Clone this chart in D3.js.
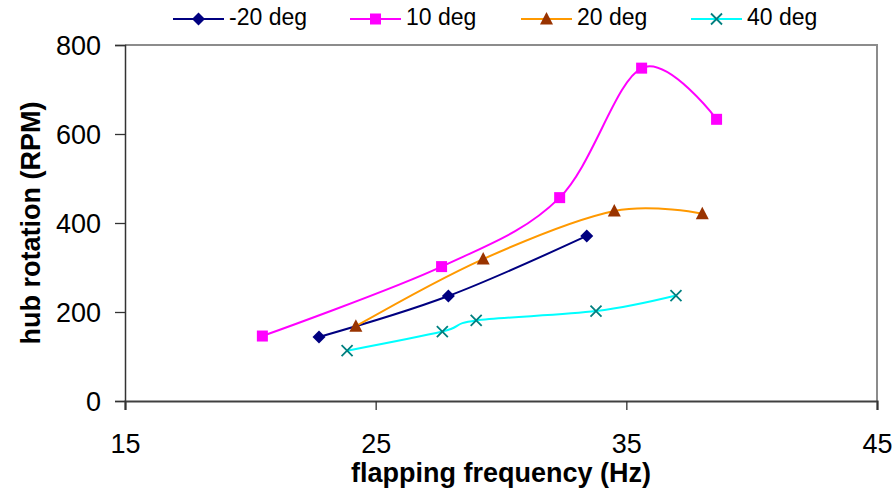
<!DOCTYPE html>
<html>
<head>
<meta charset="utf-8">
<script src="https://cdn.jsdelivr.net/npm/d3@7"></script>
<style>
  html, body { margin: 0; padding: 0; background: #fff; }
  svg { display: block; font-family: "Liberation Sans", Arial, sans-serif; }
</style>
</head>
<body>
<svg id="chart" width="896" height="492"></svg>
<script>
// ---- data ----
const seriesNames = ["-20 deg", "10 deg", "20 deg", "40 deg"];
const freqNeg20 = [22.74, 27.9, 33.42];
const rpmNeg20  = [144, 236, 371];
const freq10 = [20.48, 27.63, 32.34, 35.61, 38.6];
const rpm10  = [146, 302, 457, 748, 633];
const freq20 = [24.21, 29.29, 34.52, 38.03];
const rpm20  = [168, 319, 427, 421];
const freq40 = [23.86, 27.66, 29.01, 33.79, 36.98];
const rpm40  = [113, 156, 181, 202, 237];
const xTicks = [15, 25, 35, 45];
const yTicks = [0, 200, 400, 600, 800];

const lineColors   = ["#000080", "#FF00FF", "#FF9900", "#00FFFF"];
const markerColors = ["#000080", "#FF00FF", "#993300", "#008080"];
const markerTypes  = ["diamond", "square", "triangle", "x"];

const series = [
  [freqNeg20, rpmNeg20], [freq10, rpm10], [freq20, rpm20], [freq40, rpm40]
].map((s, i) => ({
  name: seriesNames[i],
  pts: s[0].map((f, j) => ({ x: f, y: s[1][j] }))
}));

// ---- layout ----
const svg = d3.select("#chart");
const L = 125, R = 877, T = 45, B = 401;
const x = d3.scaleLinear().domain([15, 45]).range([L, R]);
const y = d3.scaleLinear().domain([0, 800]).range([B, T]);

// plot border (top/right grey)
svg.append("path")
  .attr("d", `M${L},${T}H${R}V${B}`)
  .attr("fill", "none").attr("stroke", "#8c8c8c").attr("stroke-width", 2);

// y axis
const yAxis = svg.append("g").attr("transform", `translate(${L},0)`)
  .call(d3.axisLeft(y).tickValues(yTicks).tickSize(10).tickPadding(14).tickFormat(d3.format("d")));
yAxis.select(".domain").attr("stroke", "#333").attr("stroke-width", 1.5);
yAxis.selectAll(".tick line").attr("stroke", "#333").attr("stroke-width", 1.3);
yAxis.selectAll(".tick text").attr("font-size", 27).attr("fill", "#000")
  .attr("font-family", "'Liberation Sans', Arial, sans-serif").attr("dy", "0.36em");

// x axis
const xAxis = svg.append("g").attr("transform", `translate(0,${B})`)
  .call(d3.axisBottom(x).tickValues(xTicks).tickSize(9).tickPadding(14).tickFormat(d3.format("d")));
xAxis.select(".domain").attr("stroke", "#404040").attr("stroke-width", 2.2);
xAxis.selectAll(".tick line").attr("stroke", "#333").attr("stroke-width", 1.3);
xAxis.selectAll(".tick text").attr("font-size", 27).attr("fill", "#000")
  .attr("font-family", "'Liberation Sans', Arial, sans-serif").attr("y", 52).attr("dy", 0);

// axis titles
svg.append("text")
  .attr("x", (L + R) / 2).attr("y", 482)
  .attr("text-anchor", "middle").attr("font-size", 27).attr("font-weight", "bold")
  .text("flapping frequency (Hz)");
svg.append("text")
  .attr("transform", `translate(40,${(T + B) / 2}) rotate(-90)`)
  .attr("text-anchor", "middle").attr("font-size", 27).attr("font-weight", "bold")
  .text("hub rotation (RPM)");

// markers
function drawMarker(g, type, cx, cy, color) {
  if (type === "diamond") {
    g.append("path").attr("d", `M${cx},${cy - 6.5}L${cx + 6.5},${cy}L${cx},${cy + 6.5}L${cx - 6.5},${cy}Z`)
      .attr("fill", color);
  } else if (type === "square") {
    g.append("rect").attr("x", cx - 5.5).attr("y", cy - 5.5).attr("width", 11).attr("height", 11)
      .attr("fill", color);
  } else if (type === "triangle") {
    g.append("path").attr("d", `M${cx},${cy - 7}L${cx + 6.5},${cy + 5.5}L${cx - 6.5},${cy + 5.5}Z`)
      .attr("fill", color);
  } else {
    g.append("path").attr("d", `M${cx - 5.5},${cy - 5.5}L${cx + 5.5},${cy + 5.5}M${cx - 5.5},${cy + 5.5}L${cx + 5.5},${cy - 5.5}`)
      .attr("stroke", color).attr("stroke-width", 1.8).attr("fill", "none");
  }
}

const line = d3.line().x(d => x(d.x)).y(d => y(d.y)).curve(d3.curveCardinal.tension(0));

series.forEach((s, i) => {
  const g = svg.append("g");
  g.append("path").datum(s.pts).attr("d", line)
    .attr("fill", "none").attr("stroke", lineColors[i]).attr("stroke-width", 2);
  s.pts.forEach(p => drawMarker(g, markerTypes[i], x(p.x), y(p.y), markerColors[i]));
});

// legend
const legendX = [173, 350, 521, 691];
const legY = 19;
series.forEach((s, i) => {
  const g = svg.append("g");
  const x0 = legendX[i];
  g.append("line").attr("x1", x0).attr("x2", x0 + 51).attr("y1", legY).attr("y2", legY)
    .attr("stroke", lineColors[i]).attr("stroke-width", 2);
  drawMarker(g, markerTypes[i], x0 + 25.5, legY, markerColors[i]);
  g.append("text").attr("x", x0 + 56).attr("y", legY + 5.5)
    .attr("font-size", 23).attr("fill", "#000").text(s.name);
});
</script>
</body>
</html>
